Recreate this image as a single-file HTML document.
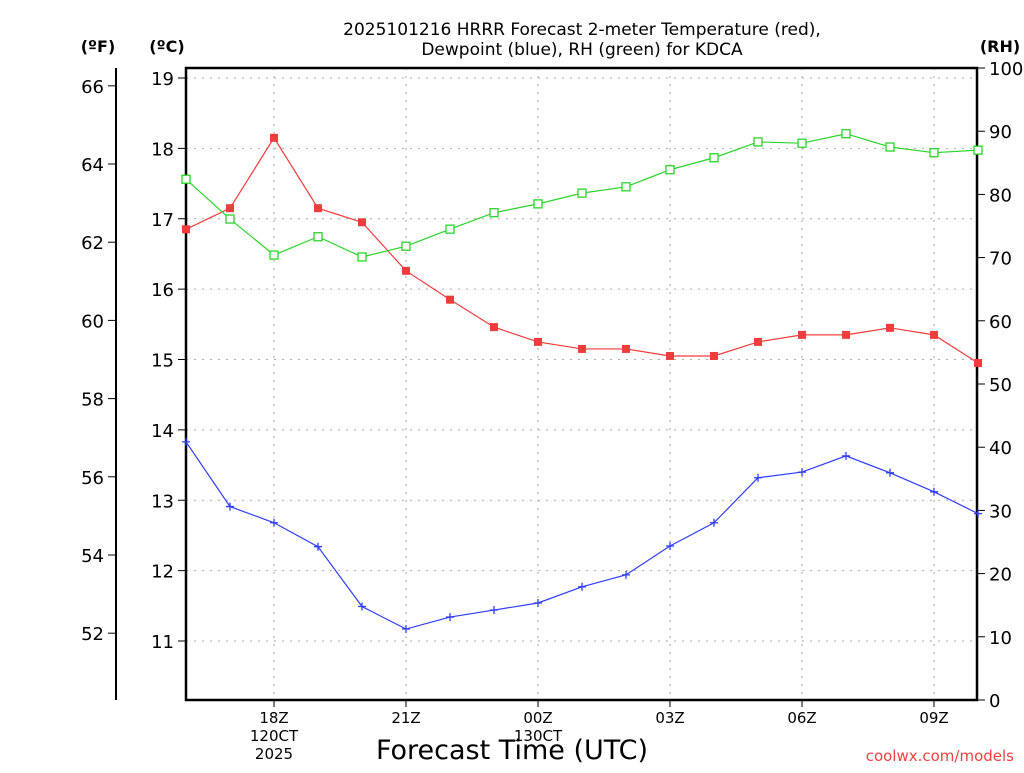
<!DOCTYPE html>
<html><head><meta charset="utf-8"><style>
body{margin:0;background:#fff;width:1024px;height:768px;overflow:hidden}
svg text{font-family:"DejaVu Sans","Liberation Sans",sans-serif}
</style></head><body>
<svg id="chart" width="1024" height="768" viewBox="0 0 1024 768" xmlns="http://www.w3.org/2000/svg">
<g>
<text x="582" y="35" text-anchor="middle" font-size="17">2025101216 HRRR Forecast 2-meter Temperature (red),</text>
<text x="582" y="55" text-anchor="middle" font-size="17">Dewpoint (blue), RH (green) for KDCA</text>
</g>
<text x="98" y="52" text-anchor="middle" font-size="16" font-weight="bold">(ºF)</text>
<text x="167" y="52" text-anchor="middle" font-size="16" font-weight="bold">(ºC)</text>
<text x="1000" y="52" text-anchor="middle" font-size="16" font-weight="bold">(RH)</text>
<text x="512" y="759" text-anchor="middle" font-size="27">Forecast Time (UTC)</text>
<text x="1014" y="761" text-anchor="end" font-size="15" fill="#f04040">coolwx.com/models</text>
<g id="grid"></g><g id="axes"></g><g id="series"></g>
</svg>
<script>
const hours=[16,17,18,19,20,21,22,23,24,25,26,27,28,29,30,31,32,33,34];
const tempC=[16.85,17.15,18.15,17.15,16.95,16.26,15.85,15.46,15.25,15.15,15.15,15.05,15.05,15.25,15.35,15.35,15.45,15.35,14.95];
const dewC=[13.83,12.91,12.68,12.34,11.49,11.17,11.34,11.44,11.54,11.77,11.94,12.35,12.68,13.32,13.40,13.63,13.39,13.12,12.81];
const rh=[82.4,76.1,70.4,73.3,70.1,71.8,74.5,77.1,78.5,80.2,81.2,83.9,85.8,88.3,88.1,89.6,87.5,86.6,87.0];
const xTickHours=[18,21,24,27,30,33];
const xTickLabels=["18Z","21Z","00Z","03Z","06Z","09Z"];
const cTicks=[11,12,13,14,15,16,17,18,19];
const fTicks=[52,54,56,58,60,62,64,66];
const rhTicks=[0,10,20,30,40,50,60,70,80,90,100];

const L=186,R=977,T=68,B=700;
const x=h=>L+(h-16)*44;
const yC=c=>78+(19-c)*70.375;
const yF=f=>yC((f-32)/1.8);
const yR=r=>B-r*6.32;
const NS="http://www.w3.org/2000/svg";
function mk(p,tag,a){const e=document.createElementNS(NS,tag);for(const k in a)e.setAttribute(k,a[k]);p.appendChild(e);return e;}
const grid=document.getElementById('grid'),axes=document.getElementById('axes'),ser=document.getElementById('series');
cTicks.forEach(c=>{
 const g=mk(grid,'line',{x1:L,x2:R,y1:yC(c),y2:yC(c),stroke:'#aaa','stroke-dasharray':'2,6'});
 
 
 mk(axes,'line',{x1:L-8,x2:L,y1:yC(c),y2:yC(c),stroke:'#000'});
 const t=mk(axes,'text',{x:L-12,y:yC(c)+7,'text-anchor':'end','font-size':18});t.textContent=c;
 
 
});
xTickHours.forEach((h,i)=>{
 const g=mk(grid,'line',{x1:x(h),x2:x(h),y1:T,y2:B,stroke:'#aaa','stroke-dasharray':'2,6'});
 
 
 mk(axes,'line',{x1:x(h),x2:x(h),y1:B,y2:B+7,stroke:'#000'});
 const t=mk(axes,'text',{x:x(h),y:B+23,'text-anchor':'middle','font-size':15});t.textContent=xTickLabels[i];
 
 
});
[["120CT",18,1],["2025",18,2],["130CT",24,1]].forEach(([s,h,r])=>{
 const t=mk(axes,'text',{x:x(h),y:B+23+r*18,'text-anchor':'middle','font-size':15});t.textContent=s;
 
 
});
mk(axes,'line',{x1:116,x2:116,y1:T,y2:B,stroke:'#000','stroke-width':2});
fTicks.forEach(f=>{
 mk(axes,'line',{x1:108,x2:116,y1:yF(f),y2:yF(f),stroke:'#000'});
 const t=mk(axes,'text',{x:104,y:yF(f)+7,'text-anchor':'end','font-size':18});t.textContent=f;
 
 
});
rhTicks.forEach(r=>{
 mk(axes,'line',{x1:R,x2:R+8,y1:yR(r),y2:yR(r),stroke:'#000'});
 const t=mk(axes,'text',{x:R+12,y:yR(r)+7,'font-size':18});t.textContent=r;
 
 
});
const frame=mk(axes,'rect',{x:L,y:T,width:R-L,height:B-T,fill:'none',stroke:'#000','stroke-width':2.5});


function line(vals,fy,col,name){
 const pl=mk(ser,'polyline',{points:vals.map((v,i)=>x(hours[i])+','+fy(v)).join(' '),fill:'none',stroke:col,'stroke-width':1.2});
 
 
}
line(tempC,yC,'#f03c3c','temperature');
line(dewC,yC,'#2e3cff','dewpoint');
line(rh,yR,'#2ad42a','rh');
tempC.forEach((v,i)=>{const m=mk(ser,'rect',{x:x(hours[i])-4,y:yC(v)-4,width:8,height:8,fill:'#f03c3c'});
 
 });
rh.forEach((v,i)=>{const m=mk(ser,'rect',{x:x(hours[i])-4,y:yR(v)-4,width:8,height:8,fill:'#fff',stroke:'#2ad42a','stroke-width':1.3});
 
 });
dewC.forEach((v,i)=>{const X=x(hours[i]),Y=yC(v);
 const m=mk(ser,'path',{d:`M${X-4},${Y}H${X+4}M${X},${Y-4}V${Y+4}`,stroke:'#2e3cff','stroke-width':1.3});
 
 });
</script>
</body></html>
